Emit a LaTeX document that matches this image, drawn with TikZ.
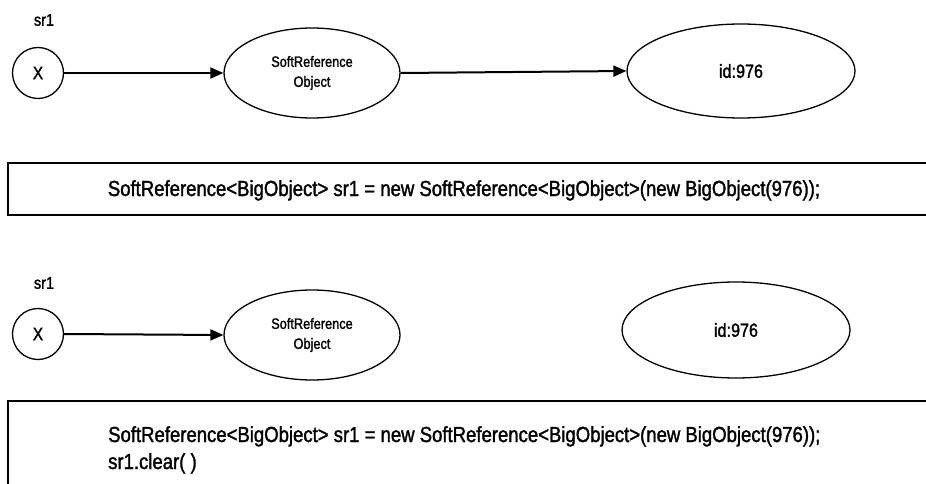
\documentclass[tikz,border=0pt]{standalone}
\usepackage{fontspec}
\setmainfont[FakeStretch=0.85,FakeBold=1.5]{Liberation Sans}
\usetikzlibrary{shapes.geometric,arrows.meta}
\tikzset{
  refcircle/.style={circle,draw,line width=1.3pt,minimum size=51pt,inner sep=0pt,font=\fontsize{18}{18}\selectfont},
  objell/.style={ellipse,draw,line width=1.3pt,inner sep=0pt,align=center,font=\fontsize{15}{20}\selectfont},
  ptr/.style={line width=2pt,-{Triangle[length=13pt,width=11pt]}},
  codebox/.style={draw,line width=1.8pt},
  lbl/.style={inner sep=0pt,font=\fontsize{17}{18}\selectfont},
  code/.style={inner sep=0pt,align=left,font=\fontsize{21.8}{27}\selectfont}
}
\begin{document}
\begin{tikzpicture}[x=1pt,y=1pt]
\useasboundingbox (0,0) rectangle (926,-484);
\clip (0,0) rectangle (926,-484);
% row 1
\node[lbl] (s1) at (44,-20) {sr1};
\node[refcircle] (x1) at (38,-73) {X};
\node[objell,minimum width=176pt,minimum height=90pt] (e1) at (312,-73) {SoftReference\\Object};
\node[objell,minimum width=228pt,minimum height=94pt,font=\fontsize{19}{20}\selectfont] (i1) at (741,-71) {id:976};
\draw[ptr] (x1.east) -- (e1.west);
\draw[ptr] (e1.east) -- (i1.west);
\draw[codebox] (8,-163) rectangle (945,-215);
\node[code,anchor=base] (c1) at (464,-196) {SoftReference<BigObject> sr1 = new SoftReference<BigObject>(new BigObject(976));};
% row 2
\node[lbl] (s2) at (44,-283) {sr1};
\node[refcircle] (x2) at (38,-334) {X};
\node[objell,minimum width=176pt,minimum height=90pt] (e2) at (312,-335) {SoftReference\\Object};
\node[objell,minimum width=228pt,minimum height=96pt,font=\fontsize{19}{20}\selectfont] (i2) at (736,-330) {id:976};
\draw[ptr] (x2.east) -- (e2.west);
\draw[codebox] (8,-401) rectangle (945,-500);
\node[code,anchor=base west] (c2) at (108,-442) {SoftReference<BigObject> sr1 = new SoftReference<BigObject>(new BigObject(976));};
\node[code,anchor=base west] (c3) at (108,-469) {sr1.clear( )};
\end{tikzpicture}
\end{document}
